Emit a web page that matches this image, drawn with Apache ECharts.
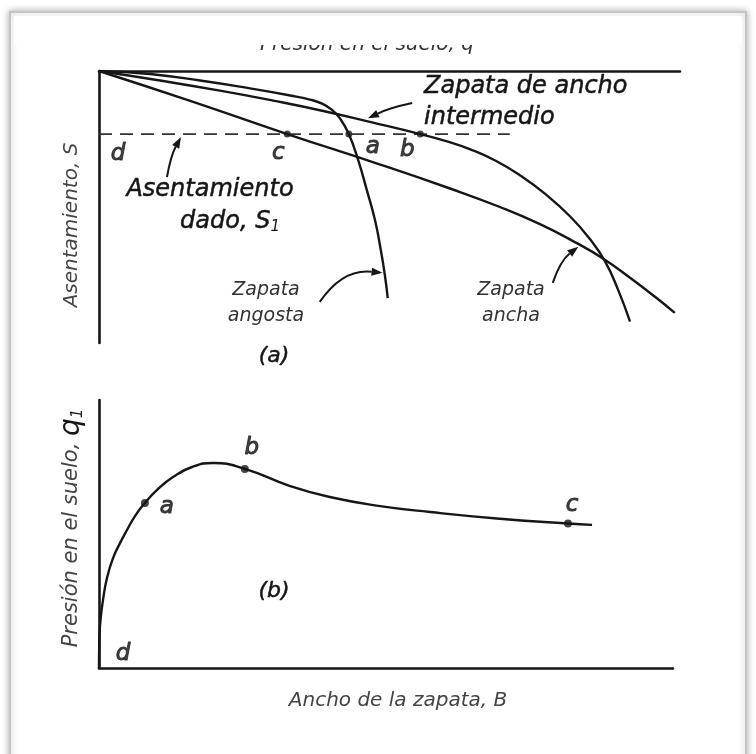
<!DOCTYPE html>
<html>
<head>
<meta charset="utf-8">
<script src="https://cdn.jsdelivr.net/npm/echarts@6/dist/echarts.min.js"></script>
<style>
  html, body { margin: 0; padding: 0; background: #ffffff; }
  #chart { width: 756px; height: 754px; }
</style>
</head>
<body>
<div id="chart"></div>
<script>
// ---- (a) settlement S (downward) against soil pressure q ----
const givenSettlement = 23.2;            // S1
const dashQ = [0, 70.7];                 // extent of the S1 reference line

const narrowQ = [0, 8.8, 17.4, 26.0, 32.9, 36.3, 38.4, 40.1, 41.5, 43.0, 44.6, 46.1, 47.5, 48.5, 49.2, 49.7];
const narrowS = [0, 1.1, 3.5, 6.4, 9.0, 10.5, 12.0, 14.3, 17.5, 23.2, 32.7, 43.8, 54.8, 65.8, 75.0, 83.5];

const mediumQ = [0, 10.5, 21.3, 30.0, 38.6, 47.0, 55.3, 59.6, 63.9, 68.2, 72.5, 76.8, 81.1, 84.5, 87.1, 89.3, 91.4];
const mediumS = [0, 3.5, 7.4, 10.9, 14.7, 18.9, 23.2, 25.7, 28.8, 32.9, 38.4, 45.2, 53.5, 61.8, 70.0, 80.2, 92.1];

const wideQ = [0, 15.7, 32.4, 48.4, 60.4, 69.0, 75.9, 81.9, 86.8, 91.4, 95.7, 99.1];
const wideS = [0, 11.0, 23.2, 34.4, 43.2, 50.0, 56.3, 62.9, 69.0, 76.0, 83.0, 88.9];

// points where each footing reaches S1
const topPointNames = ['d', 'c', 'a', 'b'];
const topPointQ = [0, 32.4, 43.0, 55.3];

// ---- (b) pressure q1 at settlement S1 against footing width B ----
const widthB = [0, 0.05, 0.26, 0.70, 1.39, 2.44, 3.66, 4.88, 6.27, 8.0, 10.3, 12.9, 16.2, 19.9,
                25.4, 33.3, 40.2, 49.0, 57.7, 69.3, 81.7, 85.9];
const pressureQ1 = [0, 10.4, 17.9, 25.4, 33.6, 41.0, 46.6, 51.5, 56.7, 61.6, 66.8, 71.3, 75.0, 76.5,
                    74.3, 67.9, 63.8, 60.4, 58.2, 55.8, 53.9, 53.4];

const bottomPointNames = ['d', 'a', 'b', 'c'];
const bottomPointB = [0, 8.0, 25.4, 81.7];
const bottomPointQ1 = [0, 61.6, 74.3, 53.9];

// leader arrows of panel (a): [tail q, tail S], [head q, head S], bend
const arrowTails = [[11.7, 39.0], [53.9, 11.8], [38.0, 84.9], [78.1, 77.9]];
const arrowHeads = [[14.1, 24.3], [46.3, 17.4], [48.8, 74.2], [82.5, 64.6]];
const arrowBends = [-0.08, 0.06, -0.3, -0.15];

const INK = '#161616';
const FONT = "'DejaVu Sans', sans-serif";

const zip = (xs, ys) => xs.map((x, i) => [x, ys[i]]);

const topLabelOffsets = { d: [19, 20], c: [-9, 19], a: [24, 13], b: [-13, 16] };
const bottomLabelOffsets = { d: [24, -14], a: [22, 4], b: [7, -21], c: [4, -19] };

const letterLabel = (offset) => ({
  show: true, position: 'inside', offset: offset,
  formatter: '{b}', color: INK, fontSize: 23, fontStyle: 'italic', fontFamily: FONT,
  textBorderColor: INK, textBorderWidth: 1
});

const curve = (name, data, xi, yi) => ({
  type: 'line', name: name, xAxisIndex: xi, yAxisIndex: yi,
  data: data, smooth: 0.5, showSymbol: false, silent: true,
  lineStyle: { color: INK, width: 2.4 }
});

const axisBase = (extra) => Object.assign({
  type: 'value', min: 0, max: 100,
  axisLine: { show: true, onZero: false, lineStyle: { color: INK, width: 2.6 } },
  axisTick: { show: false }, axisLabel: { show: false }, splitLine: { show: false }
}, extra);

const textEl = (x, y, style, extra) => Object.assign({
  type: 'text', z: 20, silent: true, x: x, y: y,
  style: Object.assign({ align: 'center', verticalAlign: 'middle' }, style)
}, extra || {});

// heavier ink for the hand-lettered annotations
const inked = { fill: INK, stroke: INK, lineWidth: 0.5 };

const baseGraphics = [
  // page frame
  {
    type: 'rect', z: -10, silent: true,
    shape: { x: 10, y: 12, width: 736, height: 780 },
    style: { fill: '#ffffff', stroke: '#c4c4c4', lineWidth: 2,
             shadowBlur: 7, shadowColor: 'rgba(0,0,0,0.30)' }
  },
  // top axis title, its upper part hidden under the band that follows
  textEl(367, 45, { text: 'Presión en el suelo, q', fill: '#333', font: "italic 20px 'DejaVu Sans'" }),
  {
    type: 'rect', z: 30, z2: 100, silent: true,
    shape: { x: 14, y: 16, width: 728, height: 29 },
    style: { fill: '#ffffff' }
  },
  textEl(72, 225, { text: 'Asentamiento, S', fill: '#444', font: "italic 20px 'DejaVu Sans'" },
         { rotation: Math.PI / 2 }),
  textEl(72, 528, {
    text: '{t|Presión en el suelo, }{q|q}{s|1}',
    rich: {
      t: { fill: '#444', font: "italic 21px 'DejaVu Sans'" },
      q: { fill: INK, font: "italic 28px 'DejaVu Sans'" },
      s: { fill: INK, font: "italic 15px 'DejaVu Sans'", padding: [12, 0, 0, 0] }
    }
  }, { rotation: Math.PI / 2 }),
  textEl(398, 701, { text: 'Ancho de la zapata, B', fill: '#444', font: "italic 20px 'DejaVu Sans'" }),
  textEl(424, 87, Object.assign({ text: 'Zapata de ancho', font: "italic 24px 'DejaVu Sans'", align: 'left' }, inked)),
  textEl(424, 118, Object.assign({ text: 'intermedio', font: "italic 24px 'DejaVu Sans'", align: 'left' }, inked)),
  textEl(210, 190, Object.assign({ text: 'Asentamiento', font: "italic 24px 'DejaVu Sans'" }, inked)),
  textEl(230, 222, {
    text: '{t|dado, S}{s|1}',
    rich: {
      t: { fill: INK, stroke: INK, lineWidth: 0.5, font: "italic 24px 'DejaVu Sans'" },
      s: { fill: INK, font: "italic 15px 'DejaVu Sans'", padding: [10, 0, 0, 0] }
    }
  }),
  textEl(266, 303, { text: 'Zapata\nangosta', fill: '#333', font: "italic 19px 'DejaVu Sans'", lineHeight: 26 }),
  textEl(511, 303, { text: 'Zapata\nancha', fill: '#333', font: "italic 19px 'DejaVu Sans'", lineHeight: 26 }),
  textEl(274, 356, Object.assign({ text: '(a)', font: "italic 22px 'DejaVu Sans'" }, inked)),
  textEl(274, 591, Object.assign({ text: '(b)', font: "italic 22px 'DejaVu Sans'" }, inked))
];

const chart = echarts.init(document.getElementById('chart'));

const option = {
  animation: false,
  backgroundColor: '#ffffff',
  grid: [
    { left: 99, top: 71, width: 581, height: 272 },
    { left: 99, top: 400, width: 574, height: 268 }
  ],
  xAxis: [
    axisBase({ gridIndex: 0, position: 'top' }),
    axisBase({ gridIndex: 1, position: 'bottom' })
  ],
  yAxis: [
    axisBase({ gridIndex: 0, inverse: true }),
    axisBase({ gridIndex: 1 })
  ],
  series: [
    {
      type: 'line', name: 'S1', xAxisIndex: 0, yAxisIndex: 0,
      data: dashQ.map(q => [q, givenSettlement]),
      showSymbol: false, silent: true,
      lineStyle: { color: '#333', width: 1.6, type: [13, 8] }
    },
    curve('Zapata angosta', zip(narrowQ, narrowS), 0, 0),
    curve('Zapata de ancho intermedio', zip(mediumQ, mediumS), 0, 0),
    curve('Zapata ancha', zip(wideQ, wideS), 0, 0),
    {
      type: 'scatter', xAxisIndex: 0, yAxisIndex: 0, silent: true,
      data: topPointNames.map((n, i) => ({
        name: n, value: [topPointQ[i], givenSettlement],
        symbolSize: n === 'd' ? 0 : 7,
        label: letterLabel(topLabelOffsets[n])
      })),
      itemStyle: { color: INK }
    },
    curve('q1', zip(widthB, pressureQ1), 1, 1),
    {
      type: 'scatter', xAxisIndex: 1, yAxisIndex: 1, silent: true,
      data: bottomPointNames.map((n, i) => ({
        name: n, value: [bottomPointB[i], bottomPointQ1[i]],
        symbolSize: n === 'd' ? 0 : 8,
        label: letterLabel(bottomLabelOffsets[n])
      })),
      itemStyle: { color: INK }
    }
  ],
  graphic: baseGraphics
};

chart.setOption(option);

// curved leader arrows, placed through the panel (a) axes
function leaderArrow(tail, head, bend) {
  const p0 = chart.convertToPixel({ gridIndex: 0 }, tail);
  const p1 = chart.convertToPixel({ gridIndex: 0 }, head);
  const dx = p1[0] - p0[0], dy = p1[1] - p0[1];
  const cp = [(p0[0] + p1[0]) / 2 - dy * bend, (p0[1] + p1[1]) / 2 + dx * bend];
  const tx = p1[0] - cp[0], ty = p1[1] - cp[1];
  const len = Math.hypot(tx, ty) || 1;
  const ux = tx / len, uy = ty / len;
  const L = 11, W = 4;
  const bx = p1[0] - ux * L, by = p1[1] - uy * L;
  return [
    {
      type: 'bezierCurve', z: 15, silent: true,
      shape: { x1: p0[0], y1: p0[1], x2: bx, y2: by, cpx1: cp[0], cpy1: cp[1] },
      style: { stroke: INK, lineWidth: 2, fill: null }
    },
    {
      type: 'polygon', z: 15, silent: true,
      shape: { points: [[p1[0], p1[1]], [bx - uy * W, by + ux * W], [bx + uy * W, by - ux * W]] },
      style: { fill: INK }
    }
  ];
}

const arrowGraphics = [];
arrowTails.forEach((t, i) => {
  arrowGraphics.push(...leaderArrow(t, arrowHeads[i], arrowBends[i]));
});
chart.setOption({ graphic: baseGraphics.concat(arrowGraphics) });
</script>
</body>
</html>
